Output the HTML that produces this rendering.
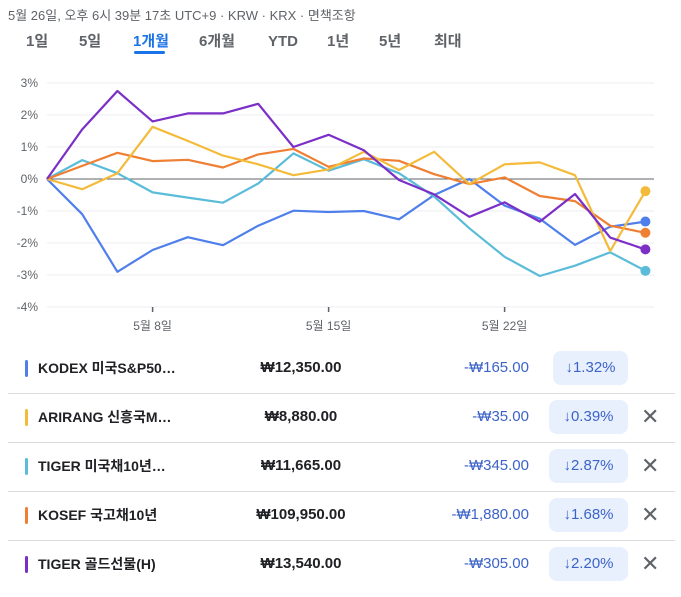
<!DOCTYPE html>
<html><head><meta charset="utf-8"><style>
body{margin:0;width:681px;height:597px;background:#fff;font-family:"Liberation Sans","Noto Sans CJK KR",sans-serif;position:relative;overflow:hidden}
.abs{position:absolute}
.hdr{left:8px;top:5px;font-size:13px;color:#5f6368;white-space:nowrap}
.tab{top:32px;font-size:15px;line-height:20px;height:20px;color:#5f6368;font-weight:bold;white-space:nowrap}
.row{left:0;width:681px;height:49px}
.sep{left:8px;width:667px;height:1px;background:#dadce0}
.bar{width:3px;height:17px;border-radius:2px}
.nm{left:38px;font-size:14px;line-height:20px;color:#202124;font-weight:bold;white-space:nowrap}
.pr{left:221px;width:160px;text-align:center;font-size:15px;line-height:20px;font-weight:bold;color:#202124}
.ch{right:152px;font-size:15px;line-height:20px;color:#3c63c8;white-space:nowrap}
.bd{height:34px;border-radius:8px;background:#e8f0fe;color:#3c63c8;font-size:15px;line-height:34px;text-align:center}
.x{left:641px;font-size:22px;line-height:24px;color:#5f6368}
</style></head><body>
<div class="abs hdr">5월 26일, 오후 6시 39분 17초 UTC+9 · KRW · KRX · 면책조항</div>
<div class="abs tab" style="left:26px">1일</div>
<div class="abs tab" style="left:79px">5일</div>
<div class="abs tab" style="left:133px;color:#1a73e8">1개월</div>
<div class="abs" style="left:134px;top:51px;width:31px;height:3px;background:#1a73e8;border-radius:2px"></div>
<div class="abs tab" style="left:199px">6개월</div>
<div class="abs tab" style="left:268px">YTD</div>
<div class="abs tab" style="left:327px">1년</div>
<div class="abs tab" style="left:379px">5년</div>
<div class="abs tab" style="left:434px">최대</div>

<svg class="abs" style="left:0;top:0" width="681" height="345" id="chart"></svg>

<div id="list"></div>

<script>
const yTicks=[3,2,1,0,-1,-2,-3,-4];
const xTickIdx=[3,8,13];
const xTickLabels=["5월 8일","5월 15일","5월 22일"];
const seriesNames=["KODEX 미국S&P50…","ARIRANG 신흥국M…","TIGER 미국채10년…","KOSEF 국고채10년","TIGER 골드선물(H)"];
const seriesColors=["#4f7fea","#f4bb3a","#5bbcd9","#ee7f33","#7b2fc7"];
const blue=[0,-1.1,-2.9,-2.22,-1.82,-2.07,-1.46,-0.99,-1.03,-1.0,-1.26,-0.5,0,-0.83,-1.24,-2.06,-1.49,-1.33];
const yellow=[0,-0.32,0.18,1.63,1.19,0.73,0.46,0.12,0.3,0.85,0.28,0.85,-0.16,0.46,0.52,0.12,-2.25,-0.38];
const cyan=[0,0.59,0.18,-0.42,-0.58,-0.74,-0.14,0.8,0.26,0.62,0.18,-0.55,-1.54,-2.43,-3.03,-2.71,-2.29,-2.87];
const orange=[0,0.41,0.82,0.56,0.6,0.36,0.77,0.94,0.38,0.64,0.57,0.15,-0.16,0.05,-0.53,-0.69,-1.46,-1.68];
const purple=[0,1.55,2.75,1.8,2.05,2.05,2.35,1.0,1.38,0.9,-0.03,-0.48,-1.18,-0.73,-1.33,-0.47,-1.83,-2.2];
const prices=["₩12,350.00","₩8,880.00","₩11,665.00","₩109,950.00","₩13,540.00"];
const changes=["-₩165.00","-₩35.00","-₩345.00","-₩1,880.00","-₩305.00"];
const pcts=["1.32%","0.39%","2.87%","1.68%","2.20%"];
const series=[blue,yellow,cyan,orange,purple];
const drawOrder=[0,2,3,1,4];

const NS="http://www.w3.org/2000/svg";
const svg=document.getElementById('chart');
const X0=47,X1=654,N=18,STEP=35.2;
const xs=i=>X0+i*STEP;
const ys=v=>179-v*32;
function mk(t,a){const e=document.createElementNS(NS,t);for(const k in a)e.setAttribute(k,a[k]);svg.appendChild(e);return e;}
yTicks.forEach(t=>{
  const g=mk('line',{x1:X0,x2:X1,y1:ys(t),y2:ys(t),stroke:t===0?'#5f6368':'#eceef0','stroke-width':1});
  
  
  const l=mk('text',{x:38,y:ys(t)+4,'text-anchor':'end','font-size':12,fill:'#5f6368'});
  l.textContent=t+'%';
  
  
});
xTickIdx.forEach((i,k)=>{
  const t=mk('line',{x1:xs(i),x2:xs(i),y1:307,y2:312,stroke:'#5f6368','stroke-width':1.5});
  
  
  const l=mk('text',{x:xs(i),y:330,'text-anchor':'middle','font-size':12,fill:'#5f6368'});
  l.textContent=xTickLabels[k];
  
  
});
drawOrder.forEach(s=>{
  const d=series[s].map((v,i)=>(i?'L':'M')+xs(i).toFixed(1)+','+ys(v).toFixed(1)).join('');
  const p=mk('path',{d:d,fill:'none',stroke:seriesColors[s],'stroke-width':2.2,'stroke-linejoin':'round'});
  
  
  const last=series[s].length-1;
  const c=mk('circle',{cx:xs(last),cy:ys(series[s][last]),r:5,fill:seriesColors[s]});
  
  
});

const list=document.getElementById('list');
seriesNames.forEach((n,i)=>{
  const top=344+i*49;
  const row=document.createElement('div');
  row.className='abs row';row.style.top=top+'px';
  
  
  const bl=i===0?553:549;
  row.innerHTML=
   '<div class="abs bar" style="left:25px;top:16px;background:'+seriesColors[i]+'"></div>'+
   '<div class="abs nm" style="top:14px">'+n+'</div>'+
   '<div class="abs pr" style="top:14px">'+prices[i]+'</div>'+
   '<div class="abs ch" style="top:14px">'+changes[i]+'</div>'+
   '<div class="abs bd" style="left:'+bl+'px;width:'+(628-bl)+'px;top:7px">↓'+pcts[i]+'</div>'+
   (i>0?'<div class="abs x" style="top:12px">✕</div>':'');
  list.appendChild(row);
  if(i<4){
    const s=document.createElement('div');
    s.className='abs sep';s.style.top=(top+49)+'px';
    
    
    list.appendChild(s);
  }
});
</script>
</body></html>
